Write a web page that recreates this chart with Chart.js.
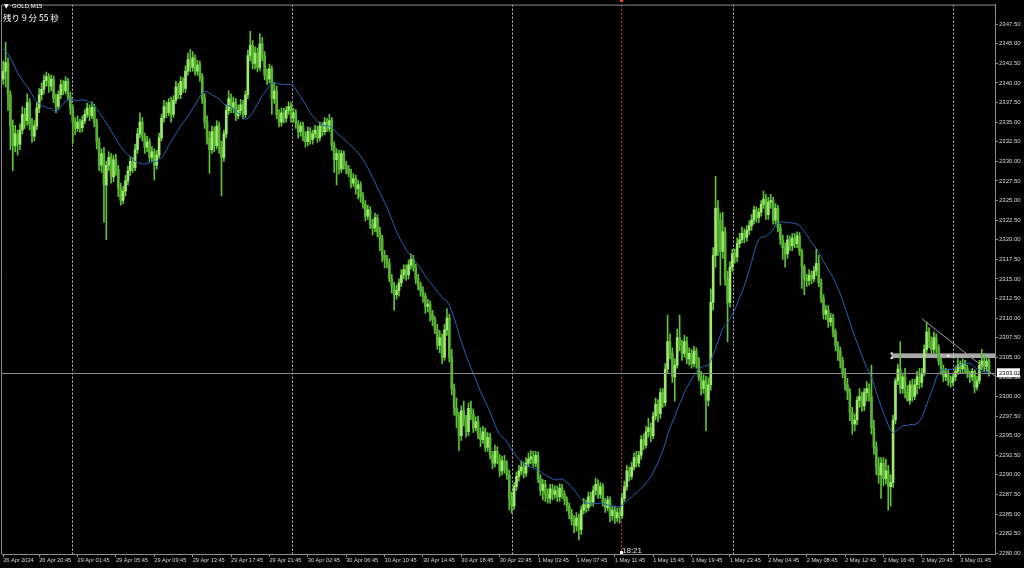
<!DOCTYPE html>
<html><head><meta charset="utf-8">
<script src="https://cdn.jsdelivr.net/npm/chart.js@4.4.1/dist/chart.umd.min.js"></script>
<style>html,body{margin:0;padding:0;background:#000;overflow:hidden}</style>
</head><body>
<canvas id="c" width="1024" height="568"></canvas>
<script>
// ---------------- DATA ----------------
const symbolTitle = 'GOLD,M15';
const countdownText = '残り 9 分 55 秒';
const firstOpen = 2340.5;
const closes = [
2341.5,2342.6,2338.5,2334.5,2332.0,2333.5,2332.2,2334.0,2336.0,2335.2,
2337.5,2334.8,2333.2,2334.5,2336.8,2338.5,2339.2,2340.3,2340.8,2339.6,
2340.5,2338.0,2337.0,2338.5,2339.8,2339.0,2340.2,2338.2,2336.8,2335.0,
2334.2,2335.0,2334.3,2335.2,2336.0,2336.8,2335.8,2336.9,2335.0,2332.5,
2329.5,2331.0,2327.0,2329.5,2330.5,2328.0,2330.2,2329.0,2326.5,2325.0,
2326.2,2327.5,2328.8,2330.0,2329.2,2331.5,2333.5,2335.0,2333.2,2331.8,
2332.5,2330.5,2331.2,2329.5,2330.8,2333.0,2335.5,2337.0,2336.2,2337.5,
2336.0,2337.8,2339.5,2338.5,2340.2,2339.3,2341.5,2343.0,2342.0,2343.2,
2341.5,2342.3,2340.8,2338.0,2335.0,2333.0,2331.5,2333.8,2332.0,2334.5,
2331.8,2330.5,2333.5,2336.5,2338.0,2336.8,2337.5,2335.8,2336.5,2337.2,
2336.0,2338.5,2343.5,2344.8,2342.5,2343.8,2342.0,2345.0,2343.5,2341.0,
2340.5,2341.8,2338.0,2339.0,2336.0,2335.0,2336.2,2335.5,2336.5,2337.0,
2335.5,2336.2,2334.8,2333.8,2334.5,2333.2,2332.5,2333.8,2332.8,2333.5,
2334.0,2333.0,2334.5,2333.8,2335.0,2334.2,2335.2,2332.0,2330.2,2331.0,
2329.0,2331.0,2329.5,2329.0,2328.5,2327.2,2327.8,2326.5,2327.0,2325.5,
2324.5,2323.0,2323.8,2322.0,2321.5,2322.8,2321.0,2320.2,2318.0,2317.5,
2317.0,2315.0,2314.0,2313.0,2313.5,2314.5,2315.5,2316.2,2315.5,2316.8,
2317.5,2316.5,2315.0,2314.2,2313.5,2312.8,2311.5,2311.8,2310.5,2309.8,
2308.5,2306.5,2307.5,2305.0,2308.5,2310.0,2305.0,2301.0,2298.5,2297.5,
2295.0,2298.2,2297.0,2295.5,2298.5,2297.8,2296.0,2296.8,2295.2,2294.5,
2295.5,2293.5,2294.8,2292.5,2291.5,2293.0,2292.0,2290.5,2291.8,2290.8,
2290.0,2287.0,2286.0,2288.5,2289.8,2290.5,2291.0,2290.2,2291.5,2292.0,
2292.3,2291.5,2292.5,2289.5,2288.0,2288.8,2287.5,2287.0,2288.2,2287.5,
2288.0,2287.2,2288.3,2287.5,2286.8,2286.0,2285.0,2284.2,2283.5,2284.5,
2283.0,2285.5,2286.2,2285.8,2287.2,2286.5,2288.0,2288.8,2287.5,2288.5,
2286.5,2285.8,2286.8,2284.8,2285.5,2284.5,2285.2,2284.8,2287.0,2288.5,
2290.5,2289.8,2291.0,2292.2,2291.5,2292.5,2294.5,2293.8,2295.5,2296.0,
2295.0,2297.5,2299.0,2297.8,2300.5,2299.2,2303.5,2307.0,2305.5,2302.5,
2304.0,2307.5,2306.5,2305.5,2307.0,2304.8,2305.5,2304.2,2305.8,2304.5,
2302.5,2301.0,2302.0,2299.5,2301.5,2312.0,2318.0,2324.0,2322.5,2318.5,
2321.0,2315.0,2312.0,2316.5,2318.2,2317.8,2319.5,2320.0,2320.8,2320.3,
2321.2,2321.8,2322.5,2323.8,2322.8,2323.5,2324.5,2325.2,2323.2,2324.8,
2325.0,2322.5,2324.0,2321.5,2320.0,2319.0,2318.2,2320.0,2319.2,2320.2,
2319.5,2320.5,2318.5,2316.5,2315.0,2314.8,2315.5,2315.0,2316.0,2317.0,
2314.5,2312.5,2310.5,2311.0,2309.5,2310.0,2308.2,2306.5,2305.8,2304.5,
2303.0,2301.5,2300.5,2298.0,2296.5,2297.0,2299.5,2300.0,2298.8,2300.5,
2301.0,2300.0,2296.0,2293.5,2291.0,2290.0,2291.5,2289.5,2290.5,2288.5,
2289.0,2297.0,2302.0,2303.5,2301.0,2302.5,2300.5,2299.5,2301.5,2300.0,
2301.5,2302.5,2301.8,2303.0,2306.0,2308.2,2307.0,2306.0,2307.5,2306.2,
2304.5,2303.5,2302.5,2303.0,2302.0,2301.8,2302.5,2303.2,2304.0,2303.5,
2304.2,2303.5,2303.0,2302.5,2303.2,2301.2,2302.0,2304.0,2304.5,2303.8,2304.5,2303.02
];
const highs = [
2342.8,2345.2,2343.2,2339.0,2335.3,2334.6,2334.0,2334.8,2337.0,2336.8,
2338.6,2338.0,2335.5,2335.2,2337.5,2339.3,2340.0,2341.0,2341.4,2341.2,
2341.0,2340.9,2338.6,2339.0,2340.4,2340.3,2340.8,2340.6,2338.8,2337.2,
2335.6,2335.8,2335.4,2335.8,2336.6,2337.4,2337.2,2337.6,2337.3,2335.4,
2333.0,2331.6,2331.8,2330.0,2331.2,2331.0,2330.8,2330.9,2329.5,2327.2,
2326.8,2328.2,2329.4,2330.6,2330.5,2332.2,2334.2,2336.2,2335.6,2333.6,
2333.2,2332.9,2331.9,2331.6,2331.4,2333.6,2336.0,2337.8,2337.6,2338.0,
2338.2,2338.4,2340.2,2340.0,2340.8,2340.7,2342.2,2343.8,2344.3,2344.0,
2343.6,2342.9,2342.8,2341.2,2338.6,2335.8,2333.8,2334.5,2334.4,2335.2,
2335.0,2332.6,2334.0,2337.2,2339.0,2338.6,2338.2,2338.0,2337.2,2337.9,
2337.8,2339.0,2344.2,2346.6,2345.4,2344.6,2344.5,2346.3,2345.8,2344.0,
2341.8,2342.4,2342.2,2340.0,2339.6,2336.6,2336.8,2336.8,2337.0,2337.6,
2337.5,2336.8,2336.6,2335.2,2335.0,2335.0,2333.8,2334.4,2334.3,2334.0,
2334.6,2334.5,2335.0,2334.9,2335.6,2335.5,2336.0,2335.6,2332.5,2331.6,
2331.4,2331.4,2331.3,2330.0,2329.5,2329.0,2328.4,2328.2,2327.6,2327.4,
2326.0,2325.0,2324.4,2324.2,2322.6,2323.4,2323.2,2321.6,2320.6,2318.6,
2318.0,2317.6,2315.6,2314.6,2314.2,2315.0,2316.2,2316.8,2316.8,2317.4,
2318.2,2318.0,2316.9,2315.6,2314.6,2314.0,2313.2,2312.4,2312.2,2311.0,
2310.2,2309.2,2308.4,2308.0,2309.2,2311.2,2310.5,2306.0,2301.6,2299.8,
2298.0,2298.8,2299.4,2297.6,2299.2,2299.4,2298.4,2297.4,2297.5,2296.0,
2296.2,2296.0,2295.4,2295.3,2293.0,2293.8,2293.6,2292.6,2292.4,2292.5,
2291.8,2290.6,2287.8,2289.0,2290.4,2291.2,2291.8,2291.6,2292.2,2292.8,
2293.1,2293.0,2293.0,2292.9,2290.0,2289.4,2289.3,2288.2,2288.8,2288.8,
2288.6,2288.6,2288.9,2288.8,2288.0,2287.2,2286.4,2285.6,2284.8,2285.2,
2285.0,2286.0,2287.0,2286.8,2287.8,2287.8,2288.6,2289.6,2289.4,2289.0,
2288.9,2287.0,2287.3,2287.2,2286.0,2286.0,2285.8,2285.8,2287.6,2289.2,
2291.2,2291.0,2291.6,2292.8,2293.0,2293.0,2295.0,2295.2,2296.2,2297.2,
2296.6,2298.0,2299.8,2299.6,2301.0,2301.0,2304.2,2310.4,2308.0,2306.2,
2304.8,2308.6,2310.4,2307.2,2307.8,2307.6,2306.2,2306.0,2306.4,2306.2,
2305.0,2303.2,2302.8,2302.6,2302.4,2313.7,2319.0,2328.1,2325.0,2323.4,
2323.5,2321.6,2316.0,2317.2,2318.8,2318.8,2320.2,2320.8,2321.6,2321.4,
2321.8,2322.4,2323.2,2324.3,2324.2,2324.0,2325.0,2326.2,2325.8,2325.4,
2325.8,2325.4,2324.6,2324.4,2322.0,2320.6,2319.6,2320.6,2320.5,2320.8,
2320.8,2321.0,2320.9,2318.8,2316.8,2315.6,2316.2,2316.0,2316.6,2318.8,
2318.0,2315.0,2313.0,2311.6,2311.6,2310.6,2310.5,2308.6,2307.0,2306.3,
2305.0,2303.6,2302.3,2301.0,2298.6,2297.8,2300.0,2301.0,2300.6,2301.0,
2301.9,2301.6,2304.0,2297.0,2294.2,2292.2,2292.2,2292.2,2292.0,2291.2,
2290.0,2297.6,2302.3,2304.1,2307.0,2303.0,2303.6,2301.4,2302.0,2302.2,
2302.2,2303.2,2303.6,2303.6,2306.6,2309.5,2308.8,2307.6,2308.2,2308.0,
2306.6,2305.0,2304.0,2303.6,2303.4,2302.6,2303.0,2303.8,2304.8,2304.5,
2304.8,2304.6,2304.0,2303.2,2303.6,2303.4,2302.6,2304.6,2306.0,2305.2,2305.0,2304.8
];
const lows = [
2339.8,2339.5,2336.5,2331.5,2328.8,2331.2,2330.8,2331.5,2333.5,2334.2,
2334.6,2334.0,2332.4,2332.6,2334.0,2336.2,2337.8,2338.6,2339.6,2338.8,
2339.0,2337.5,2336.2,2336.6,2338.0,2338.5,2338.6,2337.8,2336.0,2332.3,
2333.4,2333.8,2333.7,2333.8,2334.8,2335.6,2335.2,2335.4,2334.4,2331.6,
2328.8,2328.6,2322.2,2320.0,2328.8,2327.2,2327.4,2328.2,2325.5,2324.4,
2324.6,2325.6,2327.0,2328.2,2328.6,2328.8,2331.0,2333.0,2332.6,2331.0,
2331.2,2330.0,2330.0,2327.6,2329.0,2330.4,2332.6,2335.0,2335.6,2335.8,
2335.0,2335.6,2337.4,2338.0,2338.0,2338.8,2338.8,2341.0,2341.4,2341.5,
2341.0,2341.0,2340.2,2337.4,2334.2,2332.2,2328.5,2331.0,2331.2,2331.6,
2331.0,2325.6,2330.0,2333.0,2336.0,2336.2,2336.2,2335.2,2335.4,2336.0,
2335.4,2335.6,2338.0,2342.8,2341.8,2341.8,2341.4,2341.6,2342.8,2340.4,
2339.8,2340.0,2336.0,2337.4,2335.4,2334.4,2334.5,2334.9,2335.0,2336.0,
2335.0,2335.0,2334.2,2333.0,2333.2,2332.6,2331.8,2332.0,2332.2,2332.2,
2333.0,2332.4,2332.6,2333.2,2333.4,2333.8,2333.8,2331.4,2328.6,2327.0,
2328.4,2328.6,2329.0,2328.4,2328.0,2326.6,2326.8,2325.8,2325.2,2324.8,
2324.0,2322.4,2322.6,2321.4,2320.6,2321.0,2320.4,2318.6,2317.2,2316.4,
2316.4,2314.6,2313.2,2311.0,2312.4,2312.8,2314.0,2315.0,2314.8,2315.0,
2316.2,2316.0,2314.4,2313.6,2312.8,2312.0,2310.6,2310.8,2309.6,2309.0,
2308.0,2306.0,2305.6,2304.2,2304.6,2307.8,2304.4,2300.2,2297.6,2296.0,
2293.1,2294.4,2296.2,2294.8,2295.0,2297.0,2295.4,2295.6,2294.6,2293.6,
2294.0,2293.0,2293.0,2292.0,2290.8,2291.0,2291.4,2289.8,2290.0,2290.2,
2289.4,2285.5,2285.1,2285.6,2288.0,2289.2,2290.0,2289.6,2289.8,2291.0,
2291.4,2291.0,2291.0,2289.0,2287.4,2286.8,2286.6,2286.4,2286.4,2286.8,
2287.0,2286.6,2286.6,2287.0,2286.2,2285.4,2284.4,2283.6,2282.6,2282.8,
2281.7,2282.4,2285.0,2285.2,2285.4,2286.0,2286.0,2287.4,2287.0,2287.0,
2286.0,2285.2,2285.4,2284.0,2284.2,2283.8,2284.0,2283.8,2284.4,2286.6,
2288.0,2289.2,2289.4,2290.6,2291.0,2291.0,2292.0,2293.2,2293.4,2294.8,
2294.2,2294.6,2297.0,2296.8,2297.2,2298.6,2298.8,2303.0,2304.8,2301.8,
2299.4,2303.6,2305.8,2304.6,2305.0,2304.2,2304.0,2303.6,2303.8,2303.6,
2302.0,2300.2,2300.4,2295.6,2298.8,2300.8,2311.0,2316.5,2318.0,2314.2,
2317.6,2314.2,2307.0,2311.4,2316.0,2317.0,2317.2,2319.0,2319.6,2319.6,
2319.8,2320.6,2321.2,2322.0,2322.2,2322.2,2323.0,2324.0,2322.6,2322.6,
2324.0,2322.0,2322.0,2321.0,2319.4,2317.5,2316.5,2317.6,2318.6,2318.6,
2319.0,2319.0,2318.0,2313.8,2313.0,2314.0,2314.2,2314.4,2314.6,2315.4,
2314.0,2312.0,2309.9,2309.8,2308.8,2309.0,2307.6,2305.8,2304.6,2303.6,
2302.4,2300.8,2299.6,2296.9,2295.2,2295.6,2296.4,2298.6,2298.1,2298.2,
2299.4,2299.4,2295.2,2292.6,2290.0,2288.9,2287.0,2288.6,2288.8,2285.5,
2286.0,2288.4,2296.5,2301.5,2300.4,2300.4,2299.8,2299.4,2299.0,2299.4,
2299.6,2300.3,2301.0,2301.2,2302.6,2305.6,2306.2,2305.4,2305.6,2305.6,
2304.0,2302.8,2301.9,2302.0,2301.4,2301.2,2301.4,2302.0,2302.8,2302.9,
2303.0,2303.0,2302.4,2301.8,2302.0,2300.5,2300.8,2301.6,2303.4,2303.2,2303.2,2302.6
];
// closes of the bars just before the visible window (seed for the moving average)
const priorCloses = [2345.8,2346.4,2345.2,2344.6,2346.0,2345.5,2344.2,2343.8,2345.0,2344.6,2343.5,2344.8,2345.2,2343.9,2343.2,2344.0,2343.6,2342.8,2342.2];
const maPeriod = 20;
const slotCount = 414; // bar slots on the time axis (incl. right margin)
const xTickBars = [0,15,31,47,63,79,95,111,127,143,159,175,191,207,223,239,255,271,287,303,319,335,351,367,383,399];
const xTickLabels = ['26 Apr 2024','26 Apr 20:45','29 Apr 01:45','29 Apr 05:45','29 Apr 09:45','29 Apr 13:45','29 Apr 17:45','29 Apr 21:45','30 Apr 02:45','30 Apr 06:45','30 Apr 10:45','30 Apr 14:45','30 Apr 18:45','30 Apr 22:45','1 May 03:45','1 May 07:45','1 May 11:45','1 May 15:45','1 May 19:45','1 May 23:45','2 May 04:45','2 May 08:45','2 May 12:45','2 May 16:45','2 May 20:45','3 May 01:45'];
const priceTicks = [2280,2282.5,2285,2287.5,2290,2292.5,2295,2297.5,2300,2302.5,2305,2307.5,2310,2312.5,2315,2317.5,2320,2322.5,2325,2327.5,2330,2332.5,2335,2337.5,2340,2342.5,2345,2347.5];
const dayGridBars = [28.7,120.4,212.1,304.3,396.0];
const vLineBar = 257.6, vLineLabel = '18:21';
const bidPrice = 2303.02;
const zoneTop = 2305.5, zoneBottom = 2304.9, zoneStartBar = 370.4;
const trendStart = [383.1, 2309.9], trendEnd = [413.5, 2302.6];

// ---------------- BUILD ----------------
const opens = closes.map((c, i) => i === 0 ? firstOpen : closes[i - 1]);
const labels = Array.from({length: slotCount}, (_, i) => String(i));
const bodies = closes.map((c, i) => [opens[i], c]);
const wicks = closes.map((c, i) => [Math.min(lows[i], opens[i], c), Math.max(highs[i], opens[i], c)]);
const allC = priorCloses.concat(closes);
const ma = closes.map((_, i) => { const j = i + priorCloses.length; let s = 0; for (let k = j - maPeriod + 1; k <= j; k++) s += allC[k]; return s / maPeriod; });

const isBull = i => closes[i] >= opens[i];
const AX = '#8c8c8c', TXT = '#d8d8d8';
const xFont = {family: 'Liberation Sans', size: 5.6};
const yFont = {family: 'Liberation Sans', size: 6};

const overlay = {
  id: 'overlay',
  beforeDatasetsDraw(chart) {
    const {ctx, chartArea: a, scales: {x, y}} = chart;
    ctx.save();
    ctx.beginPath(); ctx.rect(a.left, a.top, a.right - a.left, a.bottom - a.top); ctx.clip();
    const zx = x.getPixelForValue(zoneStartBar);
    const zt = y.getPixelForValue(zoneTop), zb = y.getPixelForValue(zoneBottom);
    ctx.fillStyle = '#a9a9a9';
    ctx.fillRect(zx, zt, a.right - zx, zb - zt);
    ctx.lineWidth = 1; ctx.strokeStyle = '#c4c4c4'; ctx.setLineDash([2, 2]);
    dayGridBars.forEach(b => { const px = Math.round(x.getPixelForValue(b)) + 0.5; ctx.beginPath(); ctx.moveTo(px, a.top); ctx.lineTo(px, a.bottom); ctx.stroke(); });
    ctx.strokeStyle = '#e03434'; ctx.setLineDash([2, 2]);
    const rx = Math.round(x.getPixelForValue(vLineBar)) + 0.5;
    ctx.beginPath(); ctx.moveTo(rx, a.top); ctx.lineTo(rx, a.bottom); ctx.stroke();
    ctx.restore();
  },
  afterDatasetsDraw(chart) {
    const {ctx, chartArea: a, scales: {x, y}} = chart;
    ctx.save();
    ctx.beginPath(); ctx.rect(a.left, a.top, a.right - a.left, a.bottom - a.top); ctx.clip();
    const by = Math.round(y.getPixelForValue(bidPrice)) + 0.5;
    ctx.strokeStyle = '#8a8a8a'; ctx.lineWidth = 1;
    ctx.beginPath(); ctx.moveTo(a.left, by); ctx.lineTo(a.right, by); ctx.stroke();
    ctx.strokeStyle = '#9a9a9a';
    ctx.beginPath();
    ctx.moveTo(x.getPixelForValue(trendStart[0]), y.getPixelForValue(trendStart[1]));
    ctx.lineTo(x.getPixelForValue(trendEnd[0]), y.getPixelForValue(trendEnd[1]));
    ctx.stroke();
    const zx = x.getPixelForValue(zoneStartBar);
    const zt = y.getPixelForValue(zoneTop), zb = y.getPixelForValue(zoneBottom);
    ctx.fillStyle = '#ffffff';
    ctx.fillRect(zx - 1, zt - 1, 2, 2); ctx.fillRect(zx - 1, zb - 1, 2, 2);
    ctx.fillRect((zx + a.right) / 2 + 4, (zt + zb) / 2 - 1, 2, 2);
    ctx.restore();
  },
  afterDraw(chart) {
    const {ctx, chartArea: a, scales: {x, y}} = chart;
    ctx.save();
    ctx.strokeStyle = AX; ctx.lineWidth = 1;
    ctx.beginPath(); ctx.moveTo(a.left - 0.5, a.bottom); ctx.lineTo(a.left - 0.5, a.top + 0.5); ctx.lineTo(a.right, a.top + 0.5); ctx.stroke();
    ctx.fillStyle = '#ffffff'; ctx.textBaseline = 'alphabetic';
    ctx.font = '6px "DejaVu Sans"'; ctx.fillText('▼', 4, 8);
    ctx.font = '6px "Liberation Sans"'; ctx.fillText(symbolTitle, 12, 8);
    ctx.font = '8.5px "Noto Sans CJK JP"'; ctx.fillText(countdownText, 3, 21);
    const rx = Math.round(x.getPixelForValue(vLineBar));
    ctx.fillStyle = '#e0e0e0'; ctx.font = '8px "Liberation Sans"';
    ctx.fillText(vLineLabel, rx + 1, a.bottom - 1);
    ctx.fillStyle = '#ff4040'; ctx.fillRect(rx - 1, 0, 3, 2);
    ctx.fillStyle = '#ffffff'; ctx.fillRect(rx - 1, a.bottom - 3, 3, 3);
    const by = y.getPixelForValue(bidPrice);
    ctx.fillStyle = '#ffffff'; ctx.fillRect(a.right + 2, by - 4.5, 23, 9);
    ctx.fillStyle = '#000000'; ctx.font = '6px "Liberation Sans"';
    ctx.textAlign = 'left'; ctx.textBaseline = 'middle';
    ctx.fillText(bidPrice.toFixed(2), a.right + 4, by + 0.5);
    ctx.restore();
  }
};

new Chart(document.getElementById('c'), {
  type: 'bar',
  data: {
    labels,
    datasets: [
      {type: 'line', label: 'MA', data: ma, borderColor: '#2c62b6', borderWidth: 1, pointRadius: 0, tension: 0, order: 0},
      {label: 'body', data: bodies, grouped: false, barThickness: 2, minBarLength: 1, borderWidth: 0,
       backgroundColor: ctx => isBull(ctx.dataIndex) ? '#9de86f' : '#57b431', order: 1},
      {label: 'wick', data: wicks, grouped: false, barThickness: 1, borderWidth: 0, backgroundColor: '#62c13a', order: 2}
    ]
  },
  options: {
    responsive: false, animation: false, devicePixelRatio: 1,
    layout: {padding: {left: 2, top: 0, right: 0, bottom: 0}},
    plugins: {legend: {display: false}, tooltip: {enabled: false}},
    scales: {
      x: {
        offset: true,
        grid: {display: true, drawOnChartArea: false, drawTicks: true, tickLength: 3, tickColor: AX, offset: false},
        border: {display: true, color: AX},
        ticks: {autoSkip: false, maxRotation: 0, minRotation: 0, align: 'start', padding: 0, color: TXT, font: xFont,
                callback: (v, i) => xTickLabels[i]},
        afterBuildTicks: s => { s.ticks = xTickBars.map(v => ({value: v})); },
        afterFit: s => { s.height = 14; }
      },
      y: {
        position: 'right', min: 2279.9, max: 2350.0,
        grid: {display: true, drawOnChartArea: false, drawTicks: true, tickLength: 3, tickColor: AX},
        border: {display: true, color: AX},
        ticks: {padding: 1, color: TXT, font: yFont, callback: v => Number(v).toFixed(2)},
        afterBuildTicks: s => { s.ticks = priceTicks.map(v => ({value: v})); },
        afterFit: s => { s.width = 29; }
      }
    }
  },
  plugins: [overlay]
});
</script>
</body></html>
